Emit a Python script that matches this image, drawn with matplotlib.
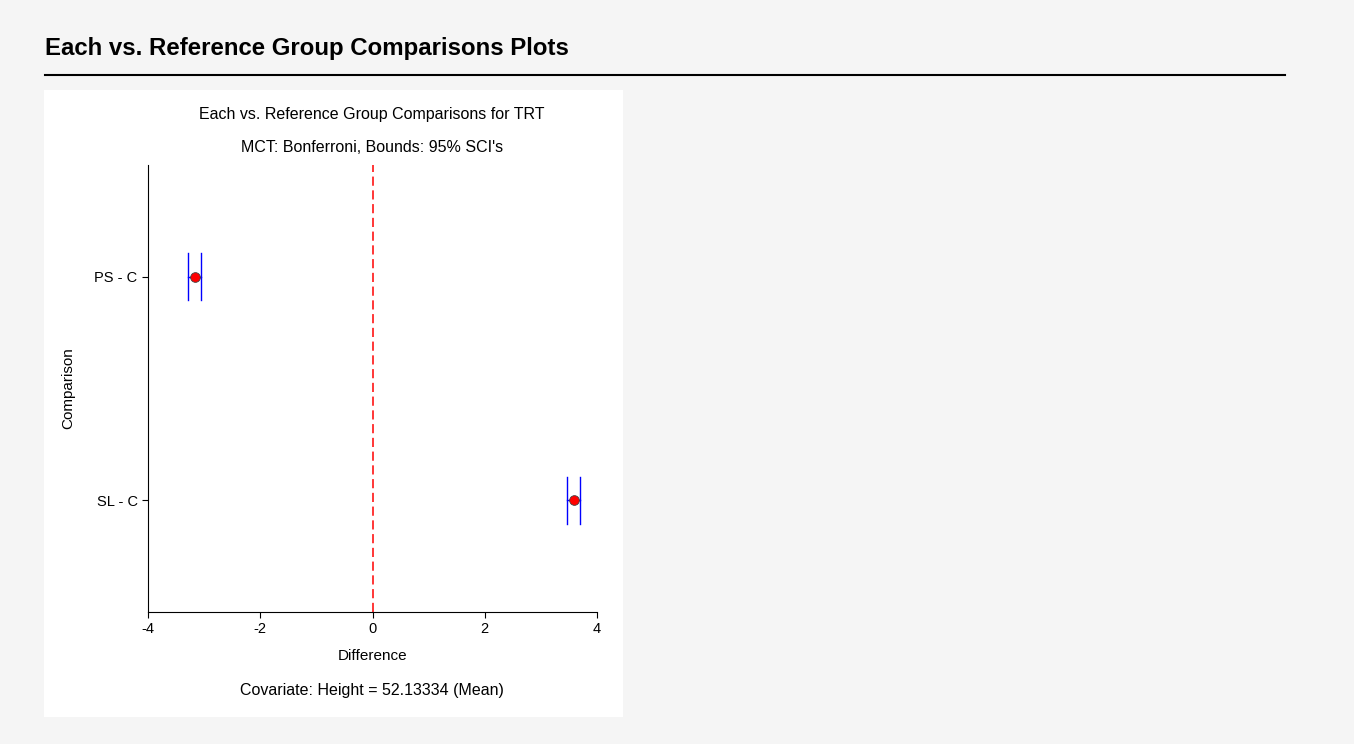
import matplotlib.pyplot as plt
from matplotlib.patches import Rectangle
from matplotlib.lines import Line2D

plt.rcParams['font.family'] = ['Liberation Sans', 'DejaVu Sans']
plt.rcParams['axes.unicode_minus'] = False

comparisons = ["PS - C", "SL - C"]
diffs = [-3.16, 3.59]
lower = [-3.29, 3.47]
upper = [-3.06, 3.70]
ypos = [1.5, 0.5]

W, H = 1354, 744
fig = plt.figure(figsize=(W / 100, H / 100), dpi=100)
fig.patch.set_facecolor("#f5f5f5")


def px(x0, y0, x1, y1):
    # pixel box -> figure fraction [left, bottom, width, height]
    return [x0 / W, 1 - y1 / H, (x1 - x0) / W, (y1 - y0) / H]


fig.text(45 / W, 1 - 48 / H, "Each vs. Reference Group Comparisons Plots",
         fontsize=17.3, fontweight="bold", va="center", ha="left")
fig.add_artist(Line2D([45 / W, 1285 / W], [1 - 75 / H, 1 - 75 / H],
                      color="black", lw=1.5))
fig.add_artist(Rectangle((44 / W, 1 - 717 / H), (623 - 44) / W, (717 - 90) / H,
                         facecolor="white", edgecolor="none", zorder=-5))

ax = fig.add_axes(px(148, 165, 597, 612))
ax.set_zorder(2)
ax.set_facecolor("white")
ax.set_xlim(-4, 4)
ax.set_ylim(0, 2)
ax.spines["top"].set_visible(False)
ax.spines["right"].set_visible(False)
for s in ("left", "bottom"):
    ax.spines[s].set_linewidth(0.8)

ax.axvline(0, color="#ff0000", ls=(0, (6, 3)), lw=1.1)
for y, d, lo, hi in zip(ypos, diffs, lower, upper):
    ax.plot([lo, hi], [y, y], color="blue", lw=1)
    ax.plot([lo, lo], [y - 0.105, y + 0.105], color="blue", lw=1)
    ax.plot([hi, hi], [y - 0.105, y + 0.105], color="blue", lw=1)
    ax.plot(d, y, "o", color="red", mec="#444444", mew=0.6, ms=7, zorder=5)

ax.set_xticks([-4, -2, 0, 2, 4])
ax.set_yticks(ypos)
ax.set_yticklabels(comparisons)
ax.tick_params(labelsize=10.5, length=4, width=0.8)
ax.set_xlabel("Difference", fontsize=11, labelpad=9)
ax.set_ylabel("Comparison", fontsize=11, labelpad=14)

fig.text(372 / W, 1 - 115 / H, "Each vs. Reference Group Comparisons for TRT",
         fontsize=11.5, ha="center", va="center")
fig.text(372 / W, 1 - 148 / H, "MCT: Bonferroni, Bounds: 95% SCI's",
         fontsize=11.5, ha="center", va="center")
fig.text(372 / W, 1 - 690 / H, "Covariate: Height = 52.13334 (Mean)",
         fontsize=11.5, ha="center", va="center")

fig.savefig("out.png", dpi=100, facecolor=fig.get_facecolor())
